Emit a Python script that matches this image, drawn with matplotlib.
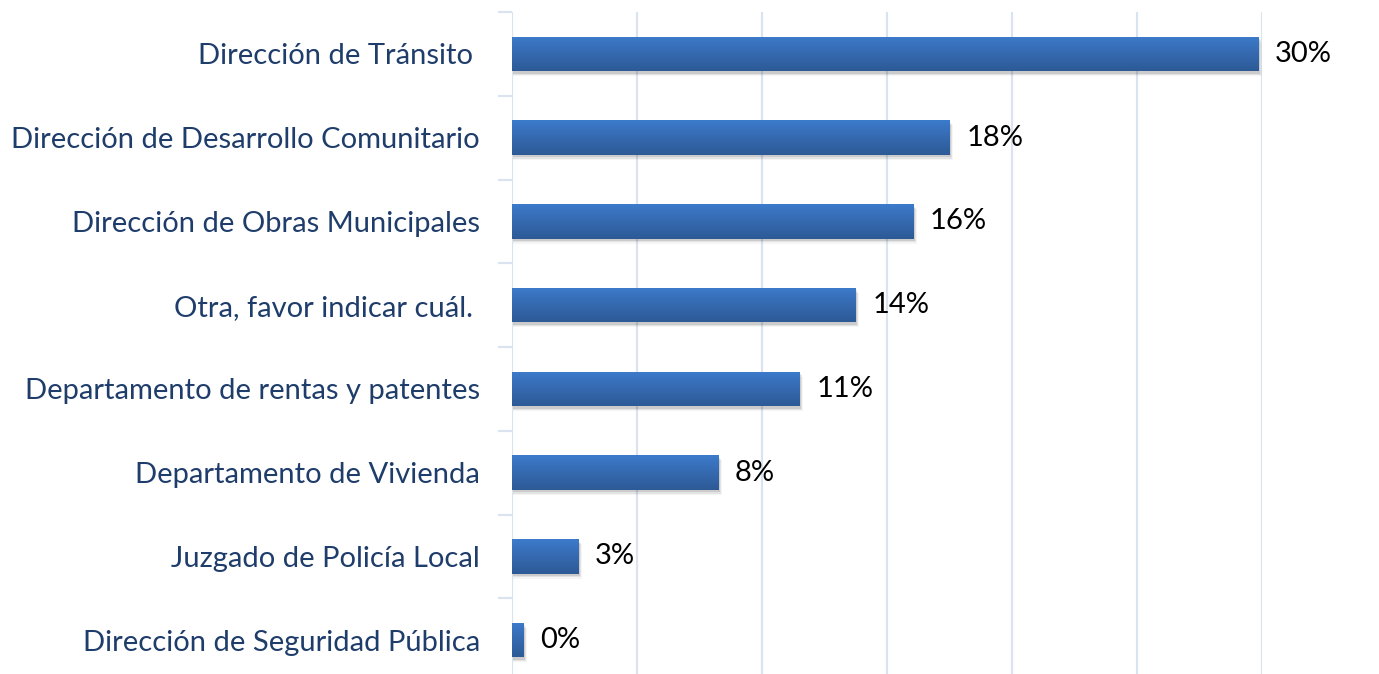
import matplotlib
matplotlib.use("Agg")
import matplotlib.pyplot as plt
import numpy as np
from matplotlib.colors import LinearSegmentedColormap

categories = ["Dirección de Tránsito ", "Dirección de Desarrollo Comunitario",
              "Dirección de Obras Municipales", "Otra, favor indicar cuál. ",
              "Departamento de rentas y patentes", "Departamento de Vivienda",
              "Juzgado de Policía Local", "Dirección de Seguridad Pública"]
values = [29.85, 17.5, 16.05, 13.75, 11.5, 8.25, 2.65, 0.45]
value_labels = ["30%", "18%", "16%", "14%", "11%", "8%", "3%", "0%"]
xticks = [0, 5, 10, 15, 20, 25, 30]

W, H = 1379, 674
fig = plt.figure(figsize=(W / 100, H / 100), dpi=100)
left, right, top, bottom = 512, 1262, 12, 682
ax = fig.add_axes([left / W, 1 - bottom / H, (right - left) / W, (bottom - top) / H])

n = len(categories)
ypos = np.arange(n)
ax.set_xlim(0, 30)
ax.set_ylim(n - 0.5, -0.5)

grid_c = "#DAE4F1"
for x in xticks:
    ax.axvline(x, color=grid_c, lw=1.6, zorder=0)

bh = 0.41
bars = ax.barh(ypos, values, height=bh, color="#3565A8", zorder=3)

cmap = LinearSegmentedColormap.from_list("g", ["#3C7BCB", "#3569B0", "#2D5A96"])
grad = np.linspace(0, 1, 64).reshape(-1, 1)
for b in bars:
    x0, y0 = b.get_x(), b.get_y()
    w, h = b.get_width(), b.get_height()
    for k, a in enumerate([0.10, 0.07, 0.04]):
        ax.add_patch(plt.Rectangle((x0 + 0.02, y0 + 0.03 + 0.015 * k), w + 0.04 * (k + 1), h,
                                   color="#000000", alpha=a, lw=0, zorder=2))
    im = ax.imshow(grad, cmap=cmap, aspect="auto", extent=(x0, x0 + w, y0 + h, y0),
                   zorder=4, interpolation="bilinear")
    im.set_clip_path(b)

for y, v, lab in zip(ypos, values, value_labels):
    ax.annotate(lab, (v, y), xytext=(12, 0), textcoords="offset points",
                ha="left", va="center", fontsize=21, color="#000000",
                family=["Lato", "DejaVu Sans"], zorder=5)

ax.set_yticks(np.arange(n + 1) - 0.5, minor=True)
ax.set_yticks(ypos)
ax.set_yticklabels(categories, fontsize=21, color="#1F3D6B", family=["Lato", "DejaVu Sans"])
ax.tick_params(axis="y", which="major", length=0, pad=23)
ax.tick_params(axis="y", which="minor", length=10, width=1.6, color=grid_c)
ax.set_xticks([])
for s in ax.spines.values():
    s.set_visible(False)
ax.set_xlim(0, 30)
ax.set_ylim(n - 0.5, -0.5)

fig.savefig("out.png", dpi=100)
